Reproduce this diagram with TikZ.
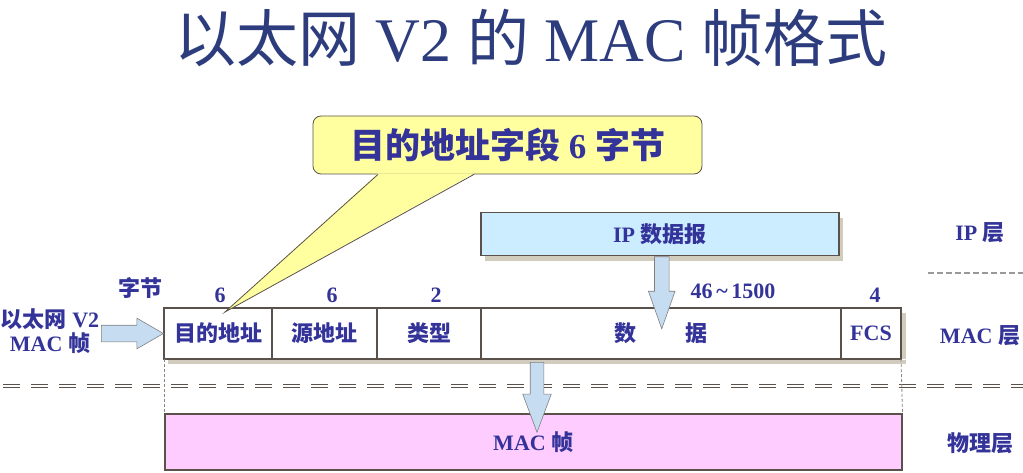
\documentclass[tikz,border=0pt]{standalone}
\usepackage{fontspec}
\setmainfont{Liberation Serif}
\newfontfamily\cjk{Noto Sans CJK SC}
\usetikzlibrary{positioning, calc, shapes.arrows, shadows}

\definecolor{txtblue}{RGB}{51,51,153}
\definecolor{titleblue}{RGB}{44,60,125}
\definecolor{edgegray}{RGB}{90,82,74}
\definecolor{shadowgray}{RGB}{210,204,190}
\definecolor{ipblue}{RGB}{204,236,255}
\definecolor{phypink}{RGB}{255,204,255}
\definecolor{noteyellow}{RGB}{255,255,160}
\definecolor{arrowblue}{RGB}{198,220,240}

\newcommand{\zh}[1]{{\cjk #1}}

\tikzset{
  lbl/.style={text=txtblue, font=\bfseries\fontsize{22}{24}\selectfont, inner sep=0pt},
  boxshadow/.style={drop shadow={shadow xshift=4pt, shadow yshift=-5pt, opacity=1, fill=shadowgray}},
  field/.style={lbl, draw=edgegray, line width=1.2pt, fill=white, minimum height=51pt, outer sep=0pt, anchor=north west},
  fatarrow/.style={single arrow, draw=gray, fill=arrowblue, line width=0.6pt, single arrow head indent=0pt},
  guide/.style={edgegray!70, line width=0.8pt, dash pattern=on 3pt off 2pt},
}

\begin{document}
\begin{tikzpicture}[x=1pt, y=-1pt]
\path[use as bounding box] (0,0) rectangle (1023,473);

% title
\node[text=titleblue, font=\fontsize{62}{70}\selectfont, anchor=base, inner sep=0pt] (title) at (531,62)
  {\zh{以太网} V2 \zh{的} MAC \zh{帧格式}};

% MAC frame
\node[field, minimum width=108pt] (f1) at (164,308) {\zh{目的地址}};
\node[field, minimum width=105pt, right=0pt of f1] (f2) {\zh{源地址}};
\node[field, minimum width=104pt, right=0pt of f2] (f3) {\zh{类型}};
\node[field, minimum width=360pt, right=0pt of f3] (f4) {\zh{数\hspace{50pt}据}};
\node[field, minimum width=60pt, right=0pt of f4] (f5) {FCS};
\fill[shadowgray] ($(f1.south west)+(4,0.6)$) rectangle ($(f5.south east)+(5,5)$);
\fill[shadowgray] ($(f5.north east)+(0.6,5)$) rectangle ($(f5.south east)+(5,0)$);

% byte counts
\node[lbl] (bytes) at (140,288) {\zh{字节}};
\node[lbl] (n1) at (220,295) {6};
\node[lbl] (n2) at (332,295) {6};
\node[lbl] (n3) at (436,295) {2};
\node[lbl] (n4) at (733,291) {46\,\textasciitilde\,1500};
\node[lbl] (n5) at (875,295) {4};

% IP datagram
\node[lbl, draw=edgegray, line width=1.5pt, fill=ipblue, minimum width=358pt, minimum height=43pt,
  anchor=north west, boxshadow] (ip) at (480,212) {IP \zh{数据报}};

% physical layer
\node[lbl, draw=edgegray, line width=1.5pt, fill=phypink, minimum width=737pt, minimum height=56pt,
  anchor=north west] (phy) at (164,413) {MAC \zh{帧}};

% layer names
\node[lbl] (lip) at (980,233) {IP \zh{层}};
\node[lbl] (lmac) at (980,336) {MAC \zh{层}};
\node[lbl] (lphy) at (980,443) {\zh{物理层}};

\draw[gray!80, line width=1pt, dash pattern=on 6pt off 3pt] (928,273) -- (1023,273);
\draw[edgegray, line width=1.1pt, double=white, double distance=1.3pt, dash pattern=on 17pt off 11pt]
  (3,386) -- (1023,386);

% guides
\draw[guide] (f1.south west) -- (phy.north west);
\draw[guide] (f5.south east) -- (phy.north east);

% incoming frame
\node[lbl, align=center] (src) at (50,331) {\zh{以太网} V2\\MAC \zh{帧}};
\node[fatarrow, minimum height=62pt, inner sep=8pt, single arrow head extend=7pt,
  single arrow tip angle=60, anchor=tip] (inarr) at (f1.west) {};

% arrows down
\node[fatarrow, rotate=-90, minimum height=72pt, inner sep=7pt, single arrow head extend=6pt,
  single arrow tip angle=39, anchor=tail] (iparr) at ($(ip.south)+(2,0)$) {};
\node[fatarrow, rotate=-90, minimum height=70pt, inner sep=6.5pt, single arrow head extend=7.5pt,
  single arrow tip angle=41, anchor=tail] (macarr) at ($(f4.south west)+(56,3)$) {};

% callout
\node[text=txtblue, font=\bfseries\fontsize{35}{38}\selectfont, draw=edgegray, fill=noteyellow,
  rounded corners=8pt, line width=0.8pt, minimum width=389pt, minimum height=58pt] (note) at (507.5,145)
  {\zh{目的地址字段} 6 \zh{字节}};
\coordinate (tip) at (225,312);
\fill[noteyellow] ($(note.south)+(-129.5,-1)$) -- (tip) -- ($(note.south)+(-33.5,-1)$) -- cycle;
\draw[edgegray, line width=0.8pt] ($(note.south)+(-129.5,0)$) -- (tip) -- ($(note.south)+(-33.5,0)$);
\end{tikzpicture}
\end{document}
